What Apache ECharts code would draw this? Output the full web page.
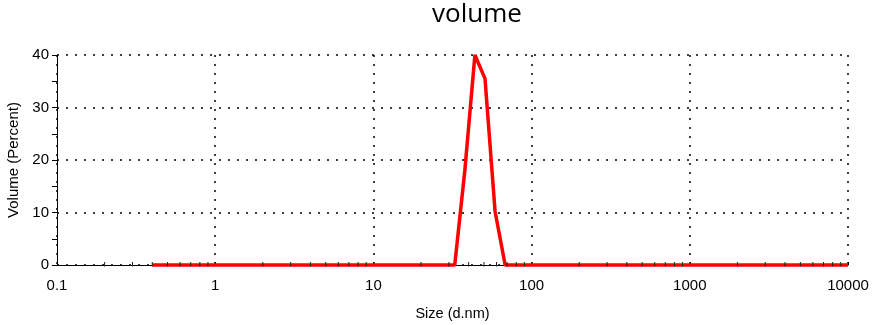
<!DOCTYPE html>
<html>
<head>
<meta charset="utf-8">
<script src="https://cdn.jsdelivr.net/npm/echarts@6/dist/echarts.min.js"></script>
<style>
  html, body { margin: 0; padding: 0; background: #fff; }
  #chart { width: 874px; height: 325px; }
</style>
</head>
<body>
<div id="chart"></div>
<script>
// Size classes (d.nm) of the distribution, log spaced from 0.4 to 10000
const sizeBins = [
  0.4000, 0.4632, 0.5365, 0.6213, 0.7195, 0.8332, 0.9649,
  1.117, 1.294, 1.499, 1.736, 2.010, 2.328, 2.696, 3.122, 3.615, 4.187, 4.849, 5.615, 6.503, 7.531, 8.721,
  10.10, 11.70, 13.54, 15.69, 18.17, 21.04, 24.36, 28.21, 32.67, 37.84, 43.82, 50.75, 58.77, 68.06, 78.82, 91.28,
  105.7, 122.4, 141.8, 164.2, 190.1, 220.2, 255.0, 295.3, 342.0, 396.1, 458.7, 531.2, 615.1, 712.4, 825.0, 955.4,
  1106, 1281, 1484, 1718, 1990, 2305, 2669, 3091, 3580, 4145, 4801, 5560, 6439, 7456, 8635,
  10000
];

// Volume (%) in each size class
const volumePercent = [
  0, 0, 0, 0, 0, 0, 0,
  0, 0, 0, 0, 0, 0, 0, 0, 0, 0, 0, 0, 0, 0, 0,
  0, 0, 0, 0, 0, 0, 0, 0, 0, 18.0, 40.0, 35.5, 10.2, 0, 0, 0,
  0, 0, 0, 0, 0, 0, 0, 0, 0, 0, 0, 0, 0, 0, 0, 0,
  0, 0, 0, 0, 0, 0, 0, 0, 0, 0, 0, 0, 0, 0, 0,
  0
];

// Axis ticks
const xDecades = [0.1, 1, 10, 100, 1000, 10000];
const xMinorSteps = [2, 3, 4, 5, 6, 7, 8, 9];
const yTicks = [0, 10, 20, 30, 40];

const minorTickValues = [];
xDecades.slice(0, -1).forEach(d => xMinorSteps.forEach(s => minorTickValues.push([d * s, 0])));

const lineData = sizeBins.map((s, i) => [s, volumePercent[i]]);

const labelFont = 'Liberation Sans, Arial, sans-serif';
const dotted = { color: '#000', width: 1.5, type: [2, 7] };

const chart = echarts.init(document.getElementById('chart'), null, { renderer: 'canvas' });
chart.setOption({
  animation: false,
  backgroundColor: '#fff',
  graphic: [{
    type: 'text',
    left: 432,
    top: 2,
    style: {
      text: 'volume',
      font: '26px "Open Sans", "Noto Sans", sans-serif',
      fill: '#000'
    }
  }],
  grid: { left: 57, right: 26, top: 55, bottom: 60, outerBoundsMode: 'none', containLabel: false },
  xAxis: {
    type: 'log',
    logBase: 10,
    min: xDecades[0],
    max: xDecades[xDecades.length - 1],
    name: 'Size (d.nm)',
    nameLocation: 'middle',
    nameGap: 41,
    nameTextStyle: { color: '#000', fontFamily: labelFont, fontSize: 14.5 },
    axisLine: { show: true, lineStyle: { color: '#000', width: 1 } },
    axisTick: { show: true, inside: true, length: 3, lineStyle: { color: '#000' } },
    axisLabel: {
      color: '#000', fontFamily: labelFont, fontSize: 15, margin: 13,
      formatter: v => String(v)
    },
    splitLine: { show: true, lineStyle: dotted }
  },
  yAxis: {
    type: 'value',
    min: yTicks[0],
    max: yTicks[yTicks.length - 1],
    interval: 10,
    name: 'Volume (Percent)',
    nameLocation: 'middle',
    nameGap: 35,
    nameTextStyle: { color: '#000', fontFamily: labelFont, fontSize: 15 },
    axisLine: { show: true, lineStyle: { color: '#000', width: 1 } },
    axisTick: { show: true, inside: false, length: 5, lineStyle: { color: '#000' } },
    minorTick: { show: true, splitNumber: 2, length: 5, lineStyle: { color: '#000' } },
    axisLabel: { color: '#000', fontFamily: labelFont, fontSize: 15, margin: 8 },
    splitLine: { show: true, lineStyle: dotted }
  },
  series: [
    {
      type: 'line',
      data: lineData,
      z: 5,
      clip: false,
      showSymbol: false,
      symbol: 'none',
      lineStyle: { color: '#ff0000', width: 3.5 }
    },
    {
      // minor ticks of the log axis, drawn across the axis line
      type: 'custom',
      silent: true,
      z: 6,
      data: minorTickValues,
      renderItem: (params, api) => {
        const p = api.coord([api.value(0), 0]);
        return {
          type: 'line',
          shape: { x1: p[0], y1: p[1] + 1.5, x2: p[0], y2: p[1] - 3 },
          style: { stroke: '#222', lineWidth: 1 }
        };
      }
    }
  ]
});
</script>
</body>
</html>
